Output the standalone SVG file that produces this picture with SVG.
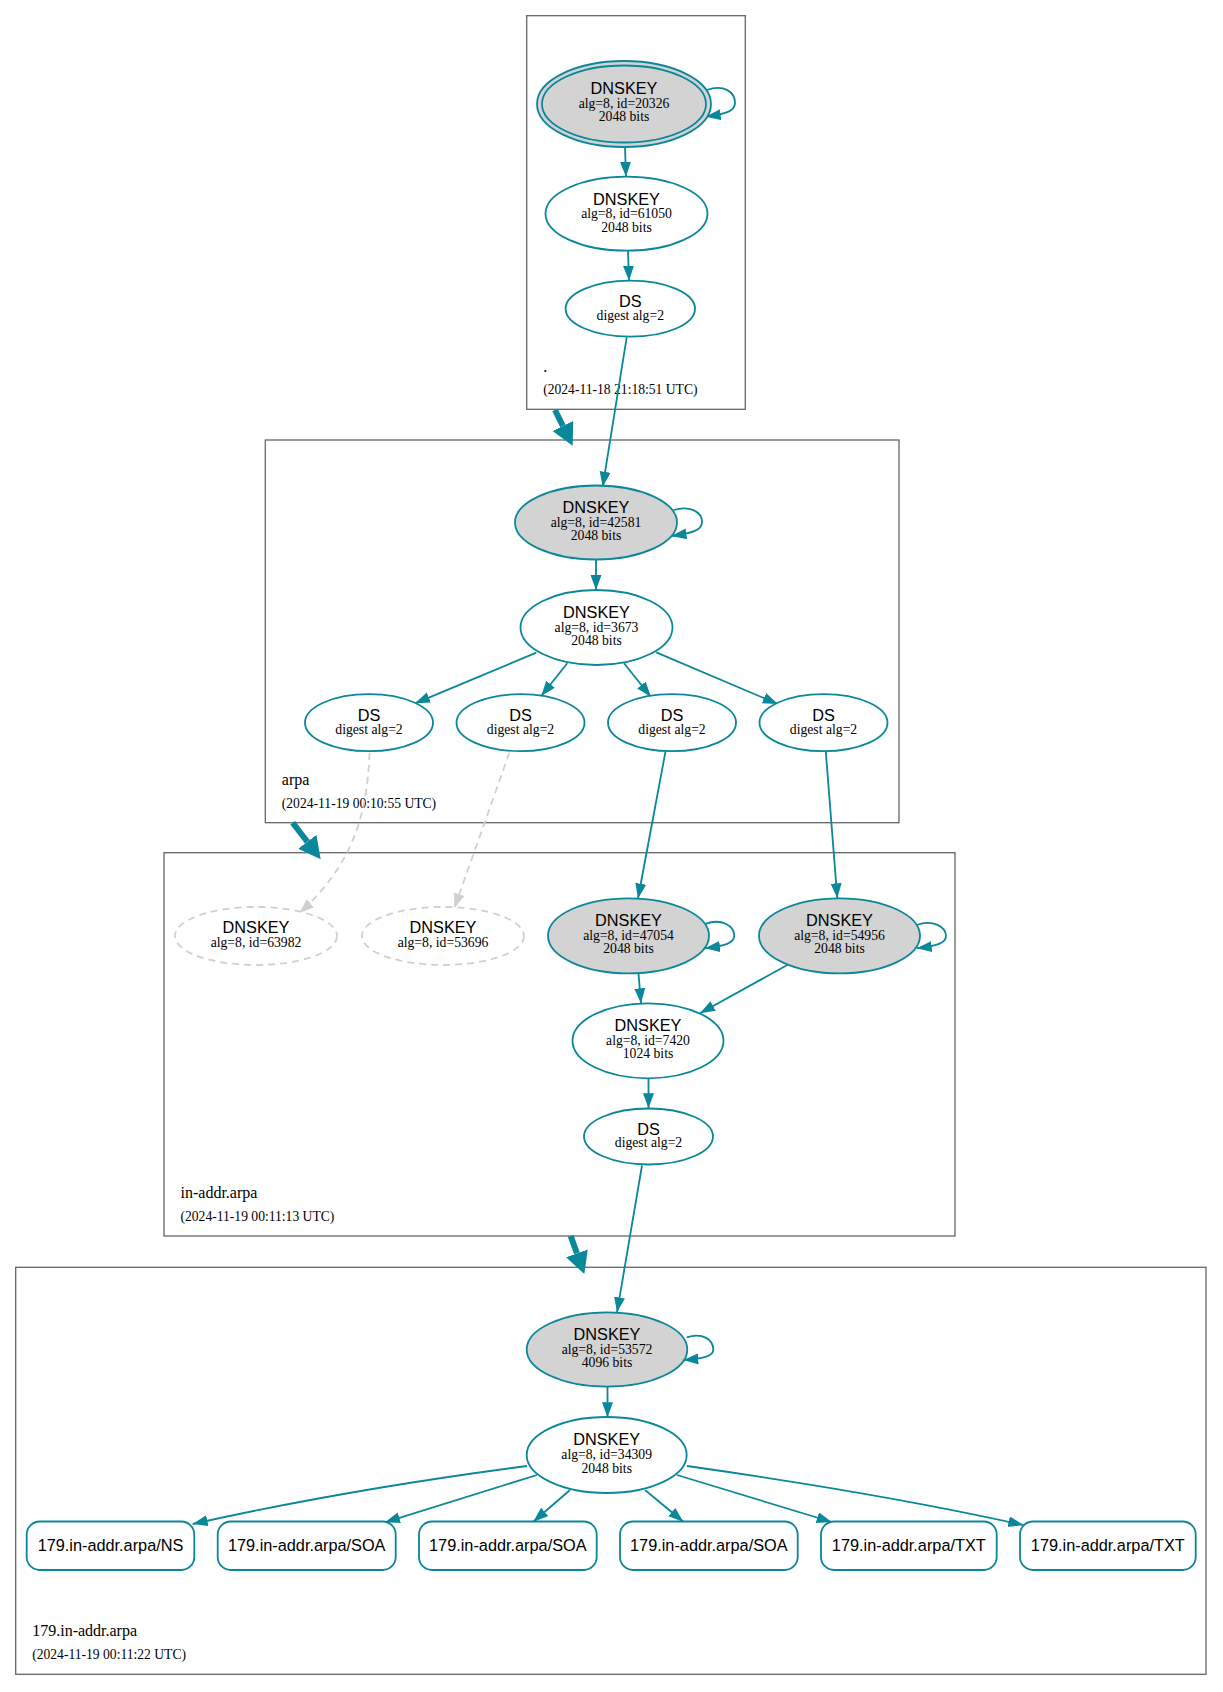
<svg xmlns="http://www.w3.org/2000/svg" width="1223" height="1692" viewBox="0 0 1223 1692">
<defs>
<style>
.cl{fill:none;stroke:#666;stroke-width:1.3}
.cn{font-family:"Liberation Serif","Times New Roman",serif;font-size:16px;fill:#000}
.ct{font-family:"Liberation Serif","Times New Roman",serif;font-size:13.6px;fill:#000}
.n{fill:#fff;stroke:#0a879a;stroke-width:1.8}
.k{fill:#d3d3d3;stroke:#0a879a;stroke-width:1.8}
.d{fill:#fff;stroke:#d0d0d0;stroke-width:1.8;stroke-dasharray:7,5}
.t1{font-family:"Liberation Sans",Arial,sans-serif;font-size:16.3px;fill:#000;text-anchor:middle}
.t2{font-family:"Liberation Serif","Times New Roman",serif;font-size:13.7px;fill:#000;text-anchor:middle}
.e{fill:none;stroke:#0a879a;stroke-width:1.8;marker-end:url(#a)}
.g{fill:none;stroke:#d0d0d0;stroke-width:1.8;stroke-dasharray:7,5;marker-end:url(#ag)}
.th{fill:none;stroke:#0a879a;stroke-width:6;marker-end:url(#at)}
</style>
<marker id="a" markerUnits="userSpaceOnUse" markerWidth="16" markerHeight="12" refX="15" refY="5.5" orient="auto" viewBox="0 0 16 12"><path d="M0,0 L15,5.5 L0,11 z" fill="#0a879a"/></marker>
<marker id="ag" markerUnits="userSpaceOnUse" markerWidth="16" markerHeight="12" refX="15" refY="5.5" orient="auto" viewBox="0 0 16 12"><path d="M0,0 L15,5.5 L0,11 z" fill="#d0d0d0"/></marker>
<marker id="at" markerUnits="userSpaceOnUse" markerWidth="24" markerHeight="24" refX="0" refY="11.5" orient="auto" viewBox="0 0 24 24"><path d="M0,0 L22,11.5 L0,23 z" fill="#0a879a"/></marker>
</defs>
<rect width="1223" height="1692" fill="#fff"/>

<g id="cluster-root">
<rect class="cl" x="526.7" y="15.7" width="218.6" height="393.6"/>
<text class="cn" x="543.2" y="372">.</text>
<text class="ct" x="543.2" y="394">(2024-11-18 21:18:51 UTC)</text>
</g>
<g id="cluster-arpa">
<rect class="cl" x="265.3" y="440" width="633.7" height="382.7"/>
<text class="cn" x="281.8" y="785">arpa</text>
<text class="ct" x="281.8" y="808">(2024-11-19 00:10:55 UTC)</text>
</g>
<g id="cluster-in-addr-arpa">
<rect class="cl" x="164" y="852.7" width="791" height="383.3"/>
<text class="cn" x="180.5" y="1198">in-addr.arpa</text>
<text class="ct" x="180.5" y="1221">(2024-11-19 00:11:13 UTC)</text>
</g>
<g id="cluster-179">
<rect class="cl" x="15.7" y="1267.3" width="1190.3" height="407"/>
<text class="cn" x="32.2" y="1636">179.in-addr.arpa</text>
<text class="ct" x="32.2" y="1659">(2024-11-19 00:11:22 UTC)</text>
</g>

<g id="connectors">
<path class="e" d="M706.7,90 C724,84 735,92 735,103 C735,111 726,114 705.7,116.7"/>
<path class="e" d="M625,147.3 L626,176.7"/>
<path class="e" d="M628,250.7 L629,280.7"/>
<path class="th" d="M555,410 L562.9,426"/>
<path class="e" d="M626.7,337.3 L602.7,486.7"/>
<path class="e" d="M673.6,510 C690,505 702,512 702,522 C702,530 693,533 671.5,536"/>
<path class="e" d="M596,559.5 L596,590"/>
<path class="e" d="M536.3,652.7 L415,703.3"/>
<path class="e" d="M567.3,663.3 L541.2,696"/>
<path class="e" d="M624,663.3 L650.8,696.7"/>
<path class="e" d="M656.2,652.3 L777.8,704"/>
<path class="th" d="M292.7,822.7 L307.3,841.8"/>
<path class="g" d="M369.6,753 C367,810 356,862 299.2,913.3"/>
<path class="g" d="M509.4,752.7 L454.3,908.3"/>
<path class="e" d="M665.5,751.5 L638,898.5"/>
<path class="e" d="M825.8,751.7 L837.3,898.3"/>
<path class="e" d="M705.5,923.8 C722,918 734.3,926 734.3,935.8 C734.3,943 725,946 705,948.3"/>
<path class="e" d="M916.7,925 C933,919 946,927 946,936 C946,943 937,946 916.7,948.3"/>
<path class="e" d="M638.5,973.5 L641,1003.3"/>
<path class="e" d="M787.3,965 L700,1013.3"/>
<path class="e" d="M648.5,1078.3 L648.5,1108.3"/>
<path class="th" d="M570.7,1236 L576.9,1253.3"/>
<path class="e" d="M642,1165.5 L617,1312.3"/>
<path class="e" d="M686.7,1337.3 C703,1332 713.3,1340 713.3,1349.5 C713.3,1356 705,1358.5 683.3,1360"/>
<path class="e" d="M607.5,1386.7 L607.5,1417.3"/>
<path class="e" d="M527,1466 C420,1480 300,1500 192.7,1524"/>
<path class="e" d="M537,1475 L385,1522.3"/>
<path class="e" d="M570,1490 L533.3,1521.7"/>
<path class="e" d="M645,1490 L683.3,1521.7"/>
<path class="e" d="M677,1475 L831.7,1522"/>
<path class="e" d="M687,1466 C800,1482 920,1502 1023.3,1525"/>
</g>

<g id="root-ksk-20326">
<ellipse class="k" cx="624" cy="104" rx="87" ry="43"/>
<ellipse fill="none" stroke="#0a879a" stroke-width="1.8" cx="624" cy="104" rx="82" ry="38.5"/>
<text class="t1" x="624" y="94">DNSKEY</text>
<text class="t2" x="624" y="107.5">alg=8, id=20326</text>
<text class="t2" x="624" y="121">2048 bits</text>
</g>
<g id="root-zsk-61050">
<ellipse class="n" cx="626.5" cy="213.7" rx="81" ry="37"/>
<text class="t1" x="626.5" y="204.5">DNSKEY</text>
<text class="t2" x="626.5" y="218">alg=8, id=61050</text>
<text class="t2" x="626.5" y="231.5">2048 bits</text>
</g>
<g id="root-ds">
<ellipse class="n" cx="630.3" cy="308.7" rx="64.7" ry="28"/>
<text class="t1" x="630.3" y="306.7">DS</text>
<text class="t2" x="630.3" y="319.5">digest alg=2</text>
</g>

<g id="arpa-ksk-42581">
<ellipse class="k" cx="596" cy="522.5" rx="81" ry="37"/>
<text class="t1" x="596" y="512.5">DNSKEY</text>
<text class="t2" x="596" y="526.5">alg=8, id=42581</text>
<text class="t2" x="596" y="540">2048 bits</text>
</g>
<g id="arpa-zsk-3673">
<ellipse class="n" cx="596.5" cy="627.5" rx="76" ry="37.5"/>
<text class="t1" x="596.5" y="617.5">DNSKEY</text>
<text class="t2" x="596.5" y="631.5">alg=8, id=3673</text>
<text class="t2" x="596.5" y="645">2048 bits</text>
</g>
<g id="arpa-ds-1">
<ellipse class="n" cx="369" cy="722.7" rx="64" ry="28.5"/>
<text class="t1" x="369" y="720.7">DS</text>
<text class="t2" x="369" y="733.5">digest alg=2</text>
</g>
<g id="arpa-ds-2">
<ellipse class="n" cx="520.5" cy="722.7" rx="64" ry="28.5"/>
<text class="t1" x="520.5" y="720.7">DS</text>
<text class="t2" x="520.5" y="733.5">digest alg=2</text>
</g>
<g id="arpa-ds-3">
<ellipse class="n" cx="672" cy="722.7" rx="64" ry="28.5"/>
<text class="t1" x="672" y="720.7">DS</text>
<text class="t2" x="672" y="733.5">digest alg=2</text>
</g>
<g id="arpa-ds-4">
<ellipse class="n" cx="823.5" cy="722.7" rx="64" ry="28.5"/>
<text class="t1" x="823.5" y="720.7">DS</text>
<text class="t2" x="823.5" y="733.5">digest alg=2</text>
</g>

<g id="inaddr-dnskey-63982">
<ellipse class="d" cx="256" cy="936" rx="81" ry="29"/>
<text class="t1" x="256" y="933.3">DNSKEY</text>
<text class="t2" x="256" y="946.5">alg=8, id=63982</text>
</g>
<g id="inaddr-dnskey-53696">
<ellipse class="d" cx="443" cy="936" rx="81" ry="29"/>
<text class="t1" x="443" y="933.3">DNSKEY</text>
<text class="t2" x="443" y="946.5">alg=8, id=53696</text>
</g>
<g id="inaddr-ksk-47054">
<ellipse class="k" cx="628.5" cy="935.8" rx="80.5" ry="37.5"/>
<text class="t1" x="628.5" y="925.8">DNSKEY</text>
<text class="t2" x="628.5" y="939.8">alg=8, id=47054</text>
<text class="t2" x="628.5" y="953.3">2048 bits</text>
</g>
<g id="inaddr-ksk-54956">
<ellipse class="k" cx="839.5" cy="935.8" rx="80.5" ry="37.5"/>
<text class="t1" x="839.5" y="925.8">DNSKEY</text>
<text class="t2" x="839.5" y="939.8">alg=8, id=54956</text>
<text class="t2" x="839.5" y="953.3">2048 bits</text>
</g>
<g id="inaddr-zsk-7420">
<ellipse class="n" cx="648" cy="1040.8" rx="75.5" ry="37.5"/>
<text class="t1" x="648" y="1030.8">DNSKEY</text>
<text class="t2" x="648" y="1044.8">alg=8, id=7420</text>
<text class="t2" x="648" y="1058.3">1024 bits</text>
</g>
<g id="inaddr-ds">
<ellipse class="n" cx="648.5" cy="1136.5" rx="64.5" ry="28"/>
<text class="t1" x="648.5" y="1134.5">DS</text>
<text class="t2" x="648.5" y="1147.3">digest alg=2</text>
</g>

<g id="z179-ksk-53572">
<ellipse class="k" cx="607" cy="1349.5" rx="80.3" ry="37.2"/>
<text class="t1" x="607" y="1339.5">DNSKEY</text>
<text class="t2" x="607" y="1353.5">alg=8, id=53572</text>
<text class="t2" x="607" y="1367">4096 bits</text>
</g>
<g id="z179-zsk-34309">
<ellipse class="n" cx="606.7" cy="1455" rx="80" ry="38"/>
<text class="t1" x="606.7" y="1445">DNSKEY</text>
<text class="t2" x="606.7" y="1459">alg=8, id=34309</text>
<text class="t2" x="606.7" y="1472.5">2048 bits</text>
</g>
<g id="rr-ns">
<rect class="n" x="26.7" y="1521.5" width="167.6" height="48.5" rx="13"/>
<text class="t1" x="110.5" y="1550.5">179.in-addr.arpa/NS</text>
</g>
<g id="rr-soa-1">
<rect class="n" x="217.7" y="1521.5" width="178" height="48.5" rx="13"/>
<text class="t1" x="306.7" y="1550.5">179.in-addr.arpa/SOA</text>
</g>
<g id="rr-soa-2">
<rect class="n" x="419" y="1521.5" width="177.7" height="48.5" rx="13"/>
<text class="t1" x="507.8" y="1550.5">179.in-addr.arpa/SOA</text>
</g>
<g id="rr-soa-3">
<rect class="n" x="620" y="1521.5" width="177.7" height="48.5" rx="13"/>
<text class="t1" x="708.8" y="1550.5">179.in-addr.arpa/SOA</text>
</g>
<g id="rr-txt-1">
<rect class="n" x="821" y="1521.5" width="175.7" height="48.5" rx="13"/>
<text class="t1" x="908.8" y="1550.5">179.in-addr.arpa/TXT</text>
</g>
<g id="rr-txt-2">
<rect class="n" x="1020" y="1521.5" width="175.7" height="48.5" rx="13"/>
<text class="t1" x="1107.8" y="1550.5">179.in-addr.arpa/TXT</text>
</g>
</svg>
